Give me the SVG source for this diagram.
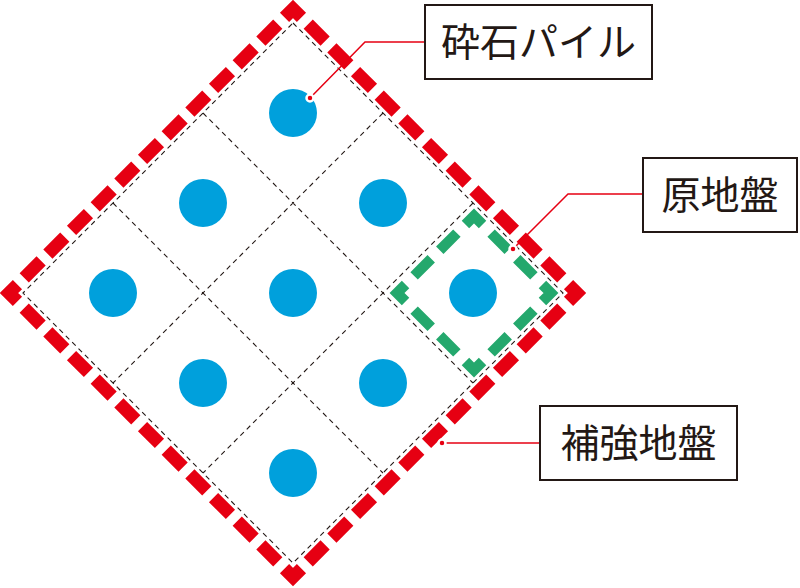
<svg xmlns="http://www.w3.org/2000/svg" width="800" height="588" viewBox="0 0 800 588">
<style>
.grid{fill:none;stroke:#231815;stroke-width:1.1;stroke-dasharray:5 4}
.pile{fill:#00a0dc}
.box{fill:#fff;stroke:#231815;stroke-width:2}
.lbl{font-family:"Noto Sans CJK JP","Noto Sans",sans-serif;font-size:39px;fill:#231815;text-anchor:middle}
.lead{fill:none;stroke:#e60012;stroke-width:1.5}
.dot{fill:#e60012;stroke:#fff;stroke-width:2.5}
</style>
<rect width="800" height="588" fill="#fff"/>
<g id="grid">
<path class="grid" d="M293,23 L563,293 L293,563 L23,293 Z"/>
<path class="grid" d="M203,113 L473,383 M113,203 L383,473 M383,113 L113,383 M473,203 L203,473"/>
</g>
<g id="piles">
<circle class="pile" cx="293" cy="113" r="24"/>
<circle class="pile" cx="203" cy="203" r="24"/>
<circle class="pile" cx="383" cy="203" r="24"/>
<circle class="pile" cx="113" cy="293" r="24"/>
<circle class="pile" cx="293" cy="293" r="24"/>
<circle class="pile" cx="473" cy="293" r="24"/>
<circle class="pile" cx="203" cy="383" r="24"/>
<circle class="pile" cx="383" cy="383" r="24"/>
<circle class="pile" cx="293" cy="473" r="24"/>
</g>
<g id="original-ground-area">
<path d="M474,216 L551,293 L474,370 L397,293 Z" fill="none" stroke="#24a86d" stroke-width="10.5" pathLength="432" stroke-dasharray="24 12" stroke-dashoffset="12"/>
</g>
<g id="improved-ground-area">
<path d="M293,9 L577,293 L293,577 L9,293 Z" fill="none" stroke="#e60012" stroke-width="13" pathLength="1612.8" stroke-dasharray="24 9.6" stroke-dashoffset="12"/>
</g>
<g id="connectors">
<path class="lead" d="M425,42 L365,42 L310,98"/>
<circle class="dot" cx="310" cy="98" r="3.5"/>
<path class="lead" d="M643,194 L568,194 L513,249"/>
<circle class="dot" cx="513" cy="249" r="3.5"/>
<path class="lead" d="M540,443 L442,443"/>
<circle class="dot" cx="442" cy="443" r="3.5"/>
</g>
<g id="label-pile">
<rect class="box" x="425" y="5" width="227" height="74"/>
<text class="lbl" x="538.5" y="56">砕石パイル</text>
</g>
<g id="label-original">
<rect class="box" x="643" y="158" width="154" height="74"/>
<text class="lbl" x="720" y="209">原地盤</text>
</g>
<g id="label-improved">
<rect class="box" x="540" y="406" width="197" height="74"/>
<text class="lbl" x="638.5" y="457">補強地盤</text>
</g>
</svg>
